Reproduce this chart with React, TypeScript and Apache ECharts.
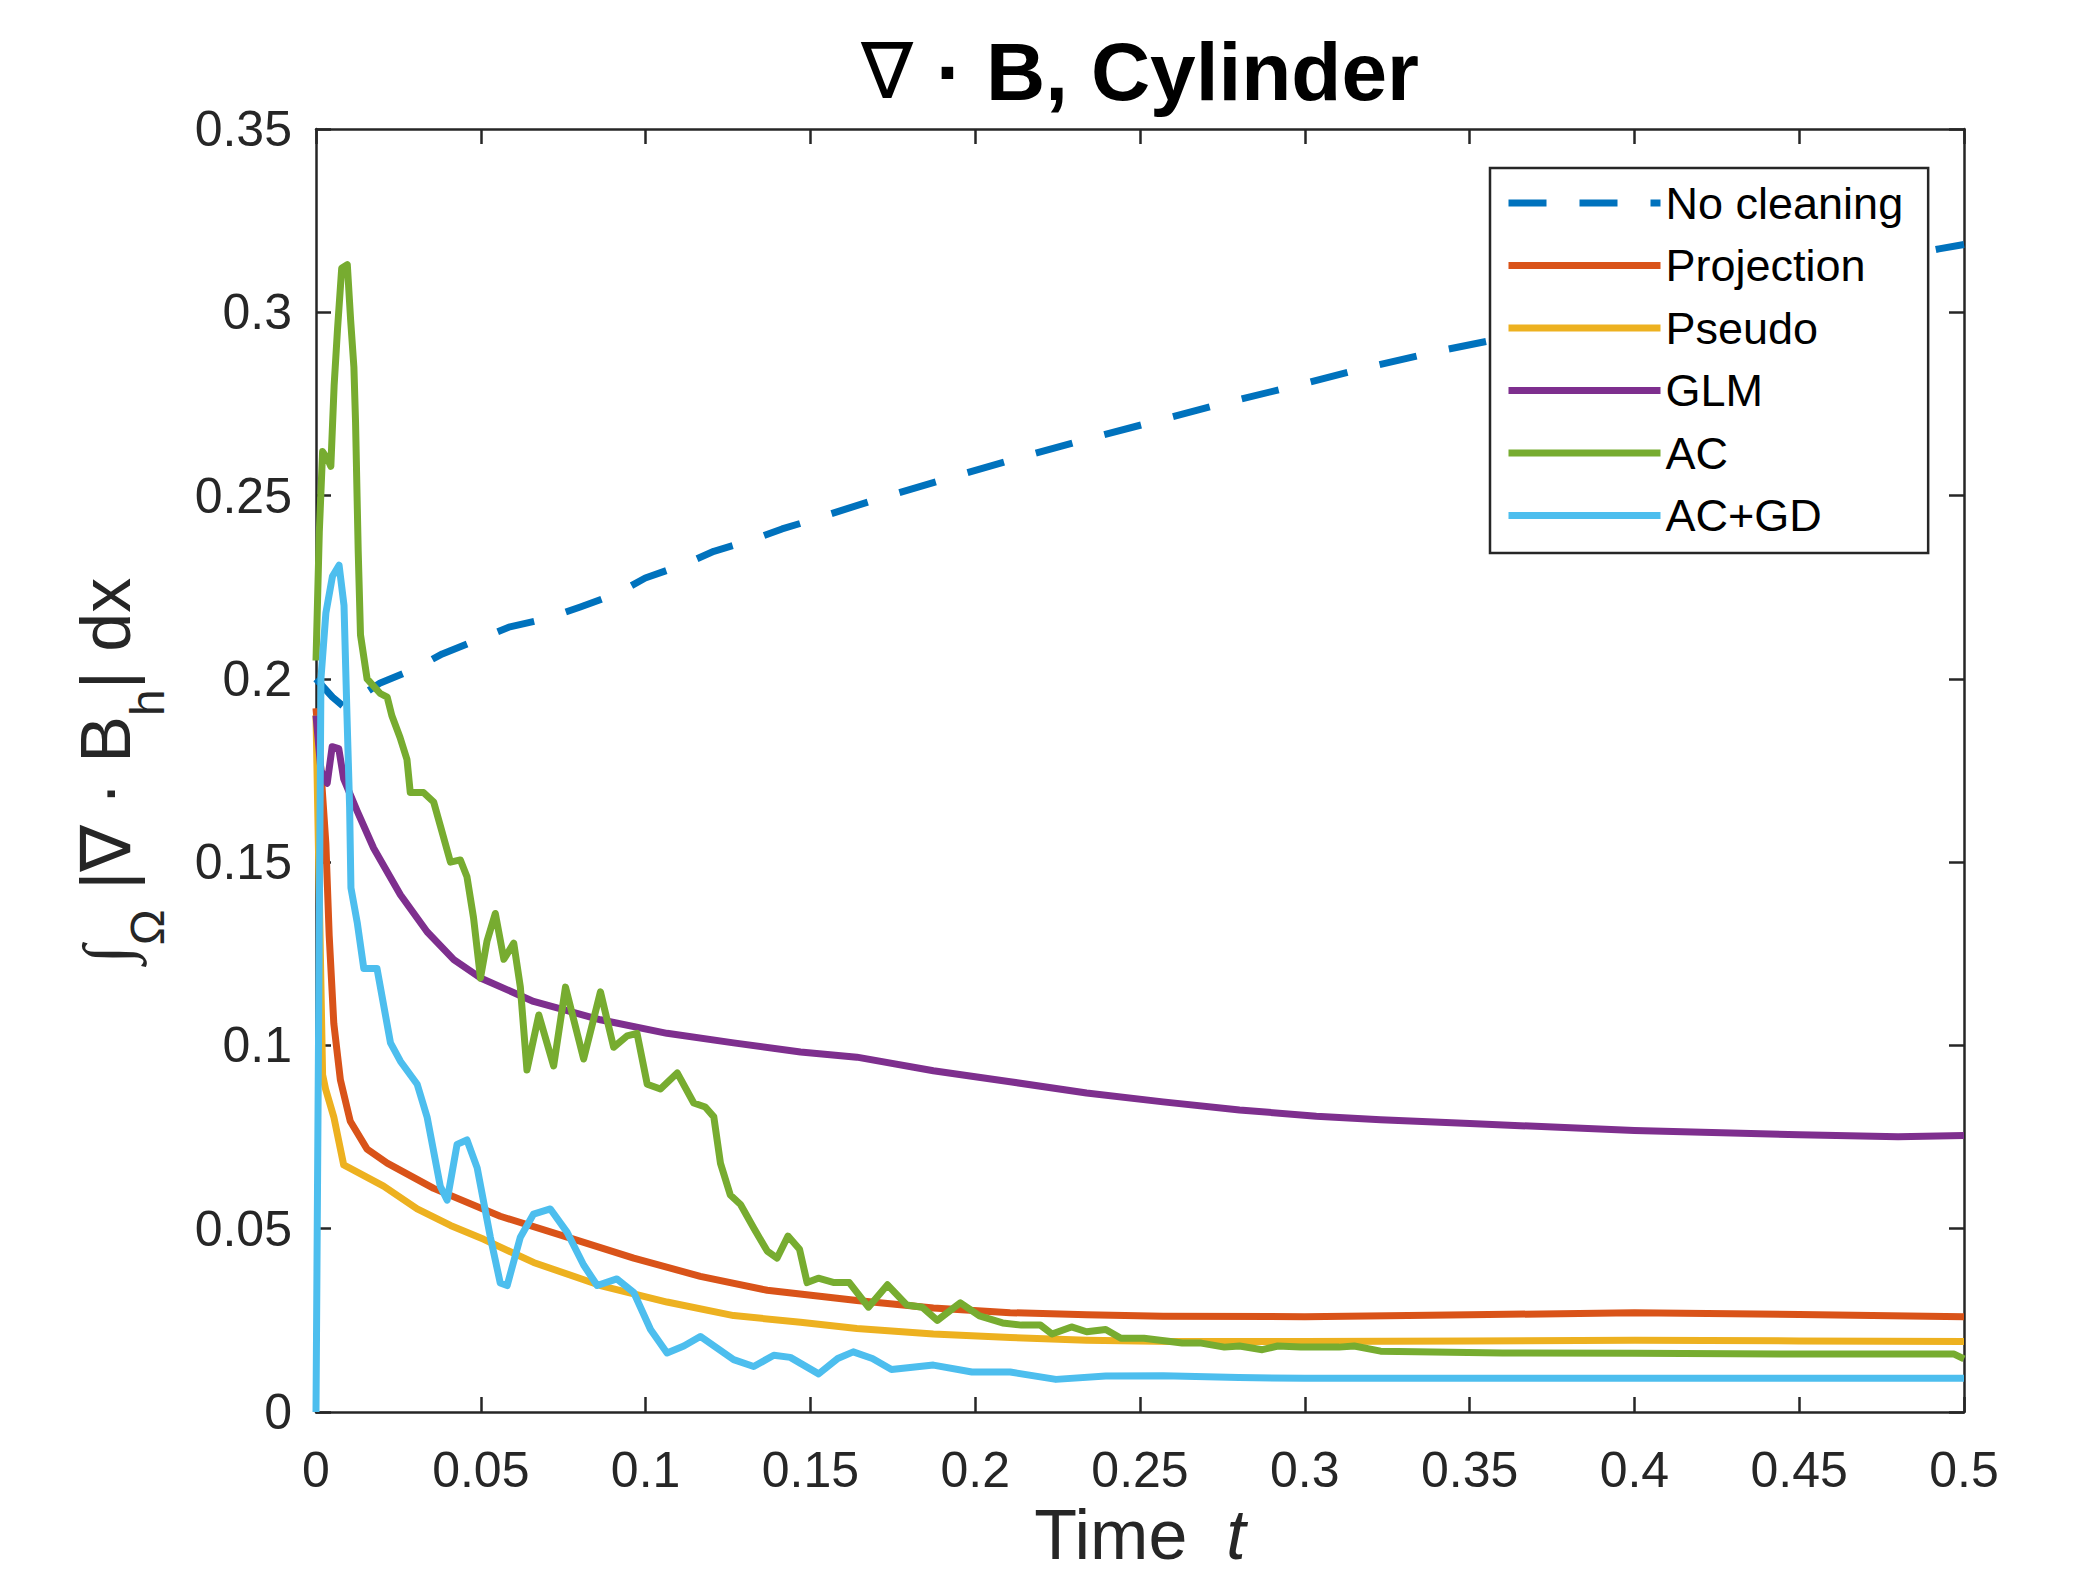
import React, { useEffect, useRef } from "react";
import * as echarts from "echarts";

// ---------- data (time t, value) ----------
const seriesNames = ["No cleaning", "Projection", "Pseudo", "GLM", "AC", "AC+GD"];
const seriesColors = ["#0072BD", "#D95319", "#EDB120", "#7E2F8E", "#77AC30", "#4DBEEE"];

const noCleaningT = [0, 0.005, 0.009, 0.013, 0.0195, 0.0296, 0.0383, 0.0499, 0.0585, 0.0706, 0.0802, 0.0914, 0.0999, 0.1116, 0.1207, 0.1323, 0.1414, 0.1473, 0.1684, 0.1894, 0.2106, 0.2318, 0.2535, 0.275, 0.2965, 0.3174, 0.3395, 0.37, 0.4, 0.43, 0.46, 0.4924, 0.5];
const noCleaningV = [0.2, 0.195, 0.192, 0.195, 0.1989, 0.2026, 0.2068, 0.211, 0.2141, 0.2166, 0.2196, 0.2233, 0.2275, 0.2312, 0.2348, 0.2379, 0.2409, 0.2425, 0.2485, 0.2541, 0.2596, 0.2649, 0.27, 0.2751, 0.2798, 0.2846, 0.2892, 0.2948, 0.3002, 0.3058, 0.3115, 0.3173, 0.3185];

const projectionT = [0, 0.0015, 0.003, 0.004, 0.0054, 0.0074, 0.0104, 0.0155, 0.0216, 0.0357, 0.0559, 0.0762, 0.0964, 0.1166, 0.1369, 0.1641, 0.1873, 0.2106, 0.2338, 0.257, 0.3, 0.35, 0.4, 0.45, 0.5];
const projectionV = [0.192, 0.175, 0.155, 0.13, 0.106, 0.0906, 0.0793, 0.0717, 0.0679, 0.061, 0.0534, 0.0477, 0.042, 0.037, 0.0332, 0.0304, 0.0284, 0.0271, 0.0265, 0.0261, 0.026, 0.0265, 0.0271, 0.0266, 0.026];

const pseudoT = [0, 0.002, 0.0029, 0.0054, 0.0084, 0.0114, 0.0205, 0.0307, 0.0408, 0.0509, 0.066, 0.0863, 0.1065, 0.1267, 0.147, 0.1641, 0.1873, 0.2106, 0.2338, 0.26, 0.3, 0.35, 0.4, 0.45, 0.5];
const pseudoV = [0.19, 0.092, 0.0881, 0.0805, 0.0674, 0.066, 0.0616, 0.0554, 0.0509, 0.0471, 0.0408, 0.0345, 0.03, 0.0263, 0.0245, 0.0228, 0.0213, 0.0203, 0.0196, 0.0192, 0.0192, 0.0194, 0.0196, 0.0194, 0.0192];

const glmT = [0, 0.0015, 0.0034, 0.0049, 0.0069, 0.0084, 0.0125, 0.0175, 0.0256, 0.0337, 0.0418, 0.0499, 0.066, 0.0863, 0.1065, 0.1267, 0.147, 0.1641, 0.1873, 0.2106, 0.2338, 0.257, 0.2802, 0.3035, 0.323, 0.35, 0.4, 0.45, 0.48, 0.5];
const glmV = [0.19, 0.175, 0.1715, 0.1815, 0.181, 0.1727, 0.1639, 0.1538, 0.1411, 0.131, 0.1234, 0.1184, 0.112, 0.107, 0.1033, 0.1007, 0.0982, 0.0968, 0.0931, 0.0901, 0.087, 0.0846, 0.0824, 0.0807, 0.0797, 0.0787, 0.0768, 0.0756, 0.0751, 0.0754];

const acT = [0, 0.001, 0.002, 0.0035, 0.0045, 0.0055, 0.0065, 0.0078, 0.0095, 0.0105, 0.0115, 0.012, 0.0128, 0.0135, 0.0155, 0.0195, 0.0216, 0.023, 0.0255, 0.0276, 0.0286, 0.0326, 0.0357, 0.0377, 0.0408, 0.0438, 0.0458, 0.0478, 0.0499, 0.0519, 0.0544, 0.057, 0.06, 0.062, 0.064, 0.0676, 0.0721, 0.0757, 0.0812, 0.0863, 0.0903, 0.0944, 0.0974, 0.1005, 0.1045, 0.1096, 0.1146, 0.1181, 0.1207, 0.1227, 0.1257, 0.1288, 0.1328, 0.1369, 0.1399, 0.1432, 0.1467, 0.149, 0.1524, 0.1572, 0.1618, 0.1676, 0.1734, 0.1792, 0.1839, 0.1885, 0.1955, 0.2013, 0.2083, 0.214, 0.2198, 0.2233, 0.2292, 0.2338, 0.2396, 0.2442, 0.2512, 0.2628, 0.2686, 0.2756, 0.2802, 0.2871, 0.2918, 0.2988, 0.3104, 0.315, 0.323, 0.36, 0.4, 0.45, 0.497, 0.5];
const acV = [0.205, 0.24, 0.262, 0.26, 0.258, 0.28, 0.295, 0.312, 0.313, 0.298, 0.285, 0.27, 0.235, 0.212, 0.2, 0.196, 0.195, 0.19, 0.184, 0.178, 0.169, 0.169, 0.1664, 0.16, 0.15, 0.1506, 0.146, 0.1348, 0.1184, 0.1285, 0.136, 0.1235, 0.1279, 0.1159, 0.0933, 0.1083, 0.0944, 0.1159, 0.0963, 0.1146, 0.0995, 0.1026, 0.1033, 0.0894, 0.0881, 0.0925, 0.0843, 0.0832, 0.0805, 0.0679, 0.0592, 0.0566, 0.0502, 0.0439, 0.042, 0.048, 0.0444, 0.0353, 0.0365, 0.0353, 0.0353, 0.0286, 0.0347, 0.0292, 0.0286, 0.025, 0.0298, 0.0262, 0.0243, 0.0237, 0.0237, 0.0213, 0.0232, 0.0219, 0.0225, 0.0201, 0.0201, 0.0188, 0.0188, 0.0177, 0.018, 0.017, 0.018, 0.0177, 0.0177, 0.018, 0.0166, 0.0161, 0.016, 0.0158, 0.0158, 0.0145];

const acgdT = [0, 0.0015, 0.003, 0.005, 0.007, 0.0085, 0.0094, 0.0102, 0.0106, 0.0125, 0.0145, 0.0185, 0.0226, 0.0256, 0.0307, 0.0337, 0.0377, 0.0398, 0.0428, 0.0458, 0.0489, 0.0529, 0.0559, 0.058, 0.062, 0.066, 0.0711, 0.0762, 0.0812, 0.0853, 0.0913, 0.0964, 0.1015, 0.1065, 0.1116, 0.1166, 0.1217, 0.1267, 0.1328, 0.1389, 0.1439, 0.1525, 0.1583, 0.163, 0.1688, 0.1746, 0.1873, 0.199, 0.2106, 0.2245, 0.2396, 0.257, 0.28, 0.3, 0.4, 0.5];
const acgdV = [0, 0.2, 0.218, 0.228, 0.231, 0.22, 0.19, 0.165, 0.143, 0.1336, 0.121, 0.121, 0.1007, 0.0957, 0.0894, 0.0805, 0.0616, 0.0578, 0.073, 0.0742, 0.0666, 0.0477, 0.0352, 0.0345, 0.0477, 0.054, 0.0554, 0.049, 0.0401, 0.0345, 0.0363, 0.0326, 0.0225, 0.0161, 0.018, 0.0206, 0.0174, 0.0143, 0.0124, 0.0155, 0.0149, 0.0104, 0.0146, 0.0164, 0.0146, 0.0116, 0.0128, 0.0109, 0.0109, 0.0089, 0.0098, 0.0099, 0.0094, 0.0092, 0.0092, 0.0092];

const seriesT = [noCleaningT, projectionT, pseudoT, glmT, acT, acgdT];
const seriesV = [noCleaningV, projectionV, pseudoV, glmV, acV, acgdV];

const xTickInterval = 0.05;
const yTickInterval = 0.05;

const FONT = "'Liberation Sans', Arial, Helvetica, 'DejaVu Sans', sans-serif";
const AXIS_COLOR = "#262626";

export default function App() {
  const ref = useRef<HTMLDivElement>(null);

  useEffect(() => {
    if (!ref.current) return;
    const chart = echarts.init(ref.current, undefined, { renderer: "svg" });

    const fmt = (v: number) => String(+v.toFixed(2));

    const axisCommon = {
      axisLine: { show: true, onZero: false, lineStyle: { color: AXIS_COLOR, width: 2.5 } },
      axisTick: { show: true, inside: true, length: 15, lineStyle: { color: AXIS_COLOR, width: 2.5 } },
      splitLine: { show: false },
    };

    const series = seriesNames.map((name, i) => ({
      name,
      type: "line",
      xAxisIndex: 0,
      yAxisIndex: 0,
      data: seriesT[i].map((t, k) => [t, seriesV[i][k]]),
      showSymbol: false,
      symbol: "none",
      smooth: false,
      clip: true,
      lineStyle: {
        color: seriesColors[i],
        width: 7,
        type: i === 0 ? [38, 33] : "solid",
        cap: "butt",
        join: "round",
      },
      itemStyle: { color: seriesColors[i] },
      emphasis: { disabled: true },
    }));

    chart.setOption({
      animation: false,
      backgroundColor: "#ffffff",
      title: {
        text: "{n|∇} · B, Cylinder",
        left: 1140,
        top: 30,
        textAlign: "center",
        padding: 0,
        textStyle: {
          fontFamily: FONT,
          fontSize: 82,
          fontWeight: "bold",
          color: "#000000",
          rich: {
            n: { fontFamily: "'DejaVu Sans', sans-serif", fontSize: 78, fontWeight: "normal", color: "#000000" },
          },
        },
      },
      grid: {
        left: 316,
        top: 129,
        width: 1648,
        height: 1283,
        containLabel: false,
        outerBoundsMode: "none",
      },
      legend: {
        orient: "vertical",
        left: 1490,
        top: 168,
        padding: [12.5, 25, 15, 15],
        itemGap: 17.5,
        itemWidth: 152,
        itemHeight: 20,
        backgroundColor: "#ffffff",
        borderColor: AXIS_COLOR,
        borderWidth: 2.5,
        data: seriesNames,
        lineStyle: { width: 7 },
        itemStyle: { opacity: 0 },
        textStyle: { fontFamily: FONT, fontSize: 45, color: "#000000", lineHeight: 45 },
      },
      xAxis: [
        {
          ...axisCommon,
          type: "value",
          position: "bottom",
          min: 0,
          max: 0.5,
          interval: xTickInterval,
          axisLabel: { show: true, margin: 33, fontFamily: FONT, fontSize: 50, color: AXIS_COLOR, formatter: fmt, showMaxLabel: true, showMinLabel: true },
          name: "{a|Time  }{b|t}",
          nameLocation: "middle",
          nameGap: 94,
          nameTextStyle: {
            rich: {
              a: { fontFamily: FONT, fontSize: 70, color: AXIS_COLOR, lineHeight: 56 },
              b: { fontFamily: FONT, fontSize: 70, fontStyle: "italic", color: AXIS_COLOR, lineHeight: 56 },
            },
          },
        },
        {
          ...axisCommon,
          type: "value",
          position: "top",
          min: 0,
          max: 0.5,
          interval: xTickInterval,
          axisLabel: { show: false },
        },
      ],
      yAxis: [
        {
          ...axisCommon,
          type: "value",
          position: "left",
          min: 0,
          max: 0.35,
          interval: yTickInterval,
          axisLabel: { show: true, margin: 24, fontFamily: FONT, fontSize: 50, color: AXIS_COLOR, formatter: fmt, showMaxLabel: true, showMinLabel: true },
          name: "{i|∫}{s|Ω}{m| |∇ · B}{s|h}{m|| dx}",
          nameLocation: "middle",
          nameRotate: 90,
          nameGap: 145,
          nameTextStyle: {
            rich: {
              i: { fontFamily: "'Liberation Serif', 'DejaVu Serif', serif", fontStyle: "italic", fontSize: 66, color: AXIS_COLOR, lineHeight: 130, verticalAlign: "middle" },
              m: { fontFamily: FONT, fontSize: 70, color: AXIS_COLOR, lineHeight: 130, verticalAlign: "middle" },
              s: { fontFamily: FONT, fontSize: 48, color: AXIS_COLOR, lineHeight: 48, verticalAlign: "bottom" },
            },
          },
        },
        {
          ...axisCommon,
          type: "value",
          position: "right",
          min: 0,
          max: 0.35,
          interval: yTickInterval,
          axisLabel: { show: false },
        },
      ],
      series,
    });

    return () => {
      chart.dispose();
    };
  }, []);

  return (
    <div
      ref={ref}
      style={{ position: "absolute", left: 0, top: 0, width: 2079, height: 1573, background: "#ffffff" }}
    />
  );
}
